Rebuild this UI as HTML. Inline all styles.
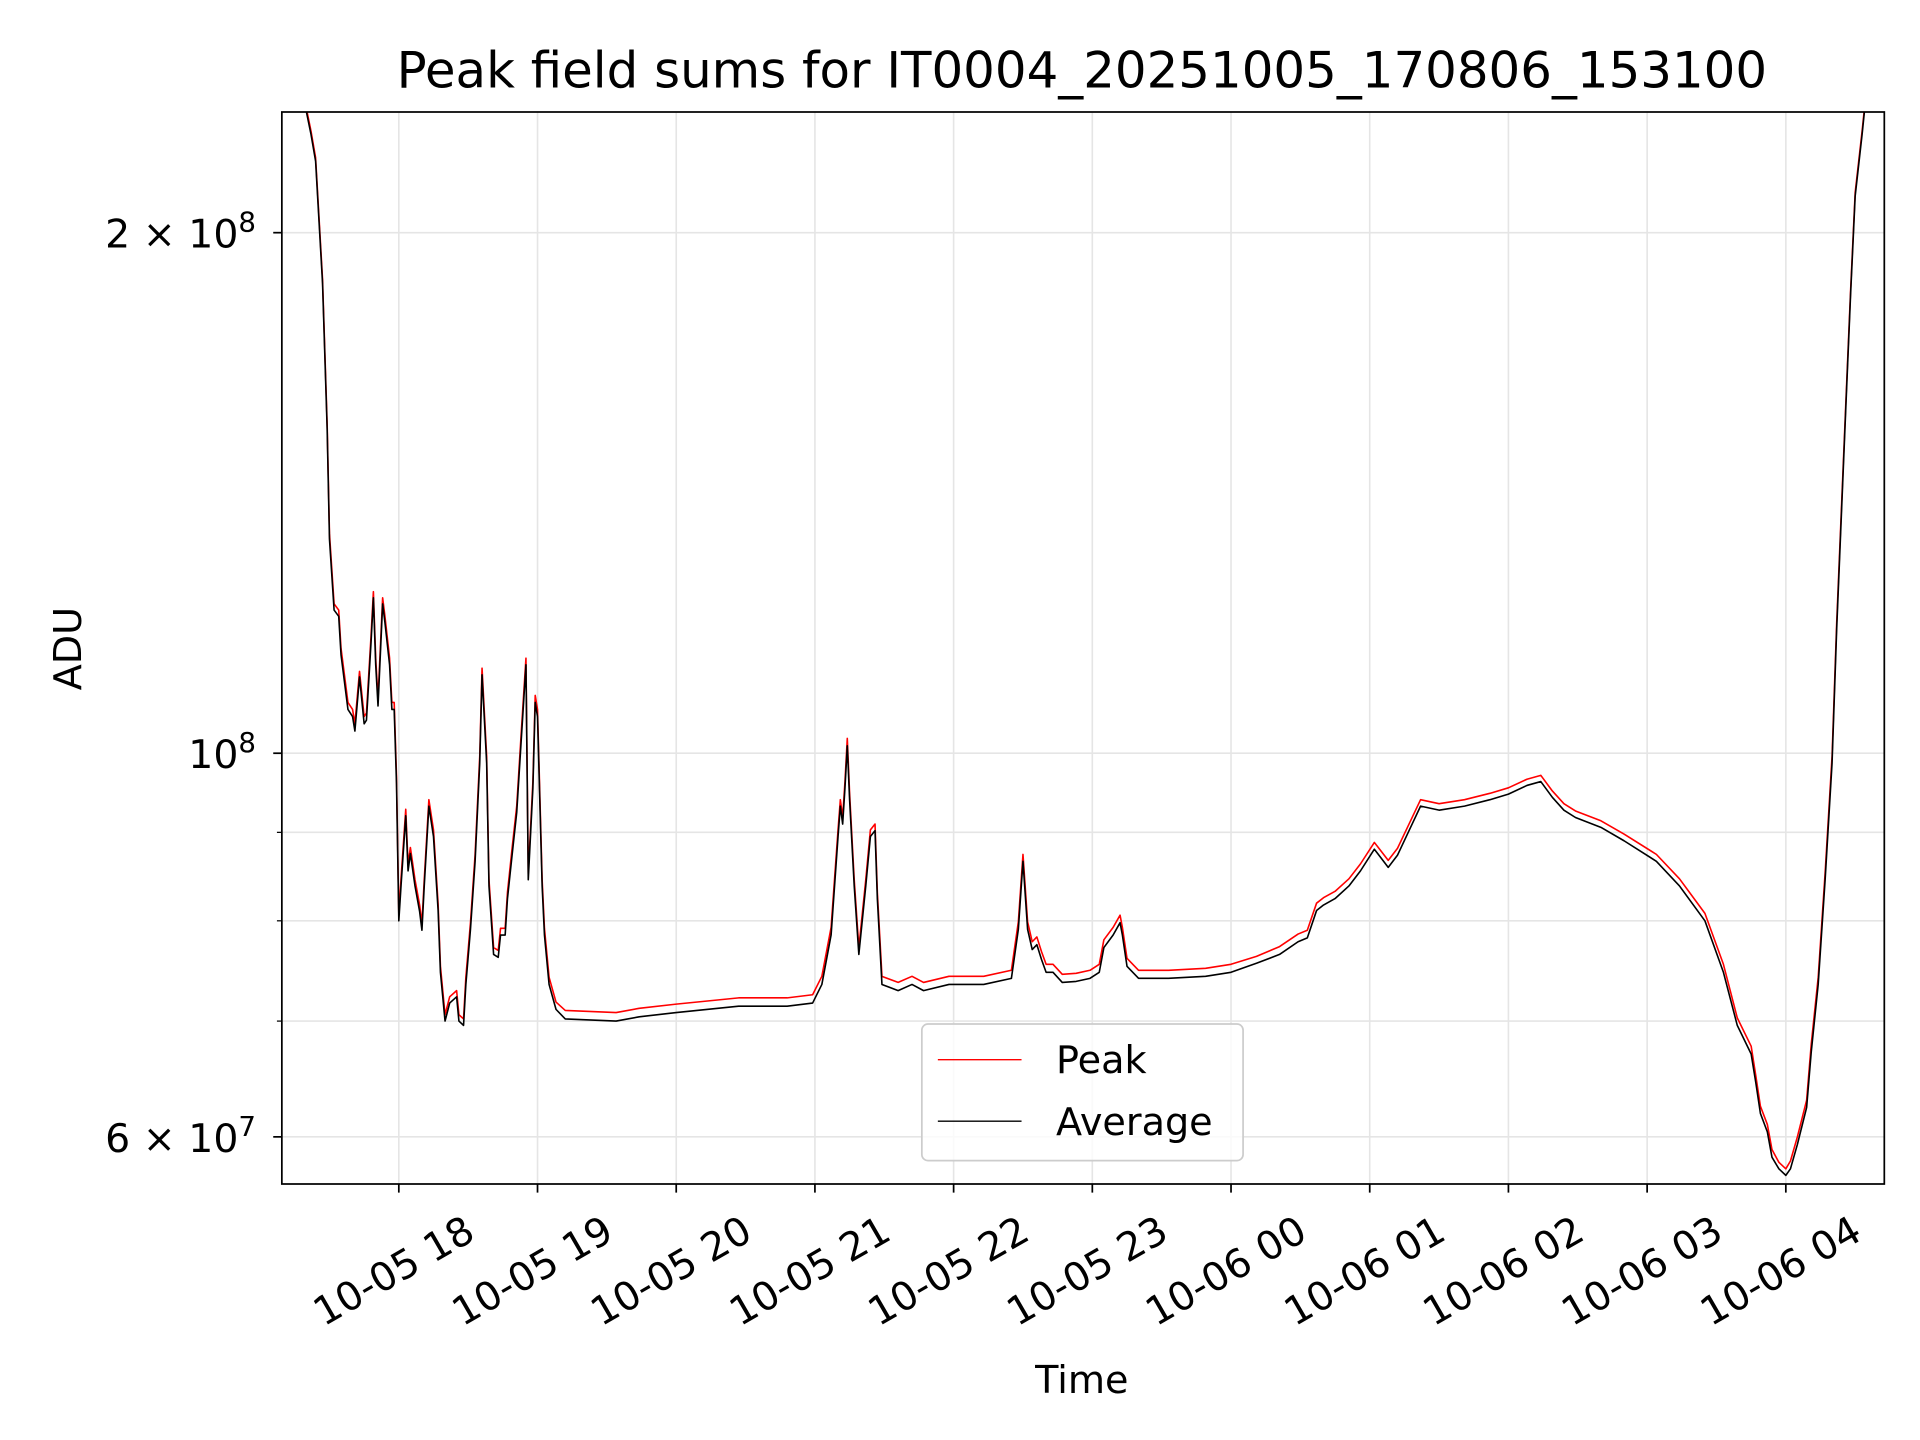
<!DOCTYPE html>
<html><head><meta charset="utf-8"><style>
html,body{margin:0;padding:0;background:#fff}
svg{display:block}
text{font-family:"DejaVu Sans","Liberation Sans",sans-serif;fill:#000}
</style></head><body>
<svg id="chart" width="1920" height="1440" viewBox="0 0 1560 1170" xmlns="http://www.w3.org/2000/svg">
<rect width="1560" height="1170" fill="#fff"/>
<text x="879" y="71" font-size="40.5" text-anchor="middle">Peak field sums for IT0004_20251005_170806_153100</text>
<g id="grid"></g>
<g id="plot" clip-path="url(#clip)"></g>
<defs><clipPath id="clip"><rect x="229" y="91" width="1302" height="871"/></clipPath></defs>
<rect x="229" y="91" width="1302" height="871" fill="none" stroke="#000" stroke-width="1.4"/>
<g id="xaxis"></g>
<g id="yaxis">
  <text x="208" y="201" font-size="32" text-anchor="end">2 × 10<tspan font-size="22.5" dy="-13">8</tspan></text>
  <text x="208" y="624" font-size="32" text-anchor="end">10<tspan font-size="22.5" dy="-13">8</tspan></text>
  <text x="208" y="936" font-size="32" text-anchor="end">6 × 10<tspan font-size="22.5" dy="-13">7</tspan></text>
</g>
<text x="0" y="0" font-size="31" text-anchor="middle" transform="translate(66,527) rotate(-90)">ADU</text>
<text x="879" y="1132" font-size="31" text-anchor="middle">Time</text>
<g>
  <rect x="749" y="832" width="261" height="111" rx="5" fill="#fff" fill-opacity="0.8" stroke="#ccc" stroke-width="1.4"/>
  <line x1="762" y1="861" x2="830" y2="861" stroke="#ff0000" stroke-width="1.1"/>
  <text x="858" y="872" font-size="31">Peak</text>
  <line x1="762" y1="911" x2="830" y2="911" stroke="#000" stroke-width="1.1"/>
  <text x="858" y="922" font-size="31">Average</text>
</g>
</svg>
<script>
// minutes since 10-05 17:00
const times = [9,20,22,24,27,29,30,32,34,35,38,40,41,43,45,46,48,49,50,51,53,54,56,57,58,59,60,61,63,64,65,67,69,70,71,73,75,77,78,80,82,85,86,88,89,91,93,95,96,98,99,101,103,104,106,107,109,111,113,115,116,118,119,120,122,123,125,128,132,154,164,180,207,228,239,243,247,250,251,252,253,254,255,257,259,262,264,266,267,269,276,282,287,298,313,325,328,330,332,334,336,338,340,343,347,353,359,363,365,369,372,373,375,380,393,409,420,431,441,449,453,457,460,465,471,476,482,484,488,492,497,502,510,521,532,540,548,554,559,564,569,580,590,604,614,625,633,639,645,647,649,652,654,657,660,662,665,669,671,674,677,680,682,684,686,688,690,693,694,703];
// values in units of 1e7 ADU
const averageValues = [23.5,23.5,22.8,22.0,18.7,15.4,13.3,12.1,12.0,11.4,10.6,10.5,10.3,11.07,10.4,10.45,11.6,12.3,11.25,10.65,12.2,11.9,11.25,10.6,10.6,9.6,8.0,8.4,9.2,8.55,8.75,8.38,8.1,7.9,8.38,9.32,8.95,8.11,7.47,7.0,7.17,7.23,7.0,6.96,7.35,7.91,8.66,9.87,11.1,9.87,8.38,7.65,7.62,7.85,7.85,8.24,8.73,9.24,10.2,11.25,8.45,9.55,10.7,10.5,8.38,7.85,7.35,7.11,7.02,7.0,7.04,7.08,7.14,7.14,7.17,7.35,7.85,8.95,9.32,9.1,9.55,10.1,9.4,8.38,7.65,8.38,8.95,9.02,8.24,7.35,7.29,7.35,7.29,7.35,7.35,7.41,7.91,8.66,7.91,7.7,7.75,7.6,7.47,7.47,7.37,7.38,7.41,7.47,7.72,7.85,7.98,7.85,7.53,7.41,7.41,7.43,7.47,7.56,7.65,7.78,7.82,8.11,8.17,8.24,8.38,8.55,8.80,8.73,8.59,8.73,9.02,9.32,9.27,9.32,9.40,9.47,9.58,9.63,9.43,9.27,9.18,9.06,8.90,8.66,8.38,8.0,7.47,6.96,6.7,6.45,6.19,6.04,5.84,5.75,5.70,5.75,5.94,6.24,6.72,7.35,8.45,9.87,11.8,13.7,15.9,18.4,21.0,22.8,23.5,23.5];
const peakValues = [23.6,23.6,22.9,22.1,18.8,15.5,13.4,12.2,12.1,11.5,10.7,10.6,10.4,11.15,10.5,10.55,11.7,12.4,11.35,10.75,12.3,12.0,11.35,10.7,10.7,9.7,8.07,8.48,9.28,8.62,8.82,8.45,8.17,7.97,8.45,9.4,9.03,8.18,7.53,7.06,7.23,7.29,7.06,7.02,7.42,7.98,8.74,9.96,11.2,9.96,8.45,7.72,7.69,7.92,7.92,8.31,8.81,9.32,10.3,11.35,8.52,9.63,10.8,10.6,8.45,7.92,7.42,7.18,7.1,7.08,7.12,7.16,7.22,7.22,7.25,7.43,7.93,9.03,9.4,9.18,9.63,10.2,9.48,8.45,7.72,8.45,9.03,9.1,8.31,7.43,7.37,7.43,7.37,7.43,7.43,7.49,7.99,8.74,7.99,7.78,7.83,7.68,7.55,7.55,7.45,7.46,7.49,7.55,7.8,7.93,8.06,7.93,7.61,7.49,7.49,7.51,7.55,7.63,7.73,7.86,7.9,8.19,8.25,8.32,8.46,8.63,8.88,8.81,8.67,8.81,9.1,9.4,9.35,9.4,9.48,9.55,9.66,9.71,9.51,9.35,9.26,9.14,8.98,8.74,8.46,8.08,7.55,7.03,6.77,6.51,6.25,6.1,5.9,5.8,5.75,5.81,6.0,6.3,6.79,7.42,8.53,9.96,11.9,13.8,16.0,18.5,21.1,22.9,23.6,23.6];
const xTickHours = [18,19,20,21,22,23,24,25,26,27,28];
const xTickLabels = ["10-05 18","10-05 19","10-05 20","10-05 21","10-05 22","10-05 23","10-06 00","10-06 01","10-06 02","10-06 03","10-06 04"];
const yGridValues = [2e8,1e8,9e7,8e7,7e7,6e7];

const NS = "http://www.w3.org/2000/svg";
const X0 = 229, X1 = 1531, Y0 = 91, Y1 = 962;
const tMin = 9.4, tMax = 702.6;
function xs(min){ return X0 + (min - tMin) / (tMax - tMin) * (X1 - X0); }
function ys(v){ return 612 - Math.log10(v / 1e8) * 1405; }

const grid = document.getElementById('grid');
const xaxis = document.getElementById('xaxis');
const yaxis = document.getElementById('yaxis');
function mk(tag, attrs, parent){ const e = document.createElementNS(NS, tag); for (const k in attrs) e.setAttribute(k, attrs[k]); parent.appendChild(e); return e; }

xTickHours.forEach((h, i) => {
  const x = xs((h - 17) * 60);
  const g = mk('line', {x1:x, y1:Y0, x2:x, y2:Y1, stroke:'#e5e5e5', 'stroke-width':1.3}, grid);
  
  
  const t = mk('line', {x1:x, y1:Y1, x2:x, y2:Y1 + 7, stroke:'#000', 'stroke-width':1.4}, xaxis);
  
  
  const lbl = mk('text', {x:0, y:0, 'font-size':32, 'text-anchor':'middle', 'dominant-baseline':'central', transform:'translate(' + (x - 4) + ',1033) rotate(-30)'}, xaxis);
  lbl.textContent = xTickLabels[i];
  
  
});
yGridValues.forEach(v => {
  const y = ys(v);
  const g = mk('line', {x1:X0, y1:y, x2:X1, y2:y, stroke:'#e5e5e5', 'stroke-width':1.3}, grid);
  
  
  const major = (v === 2e8 || v === 1e8 || v === 6e7);
  const t = mk('line', {x1:X0 - (major ? 7 : 4), y1:y, x2:X0, y2:y, stroke:'#000', 'stroke-width':major ? 1.4 : 1}, yaxis);
  
  
});

const plot = document.getElementById('plot');
function series(vals, color, name){
  const d = vals.map((v, i) => (i ? 'L' : 'M') + xs(times[i]).toFixed(2) + ',' + ys(v * 1e7).toFixed(2)).join(' ');
  const p = mk('path', {d:d, fill:'none', stroke:color, 'stroke-width':1.3, 'stroke-linejoin':'round'}, plot);
  
  
}
series(peakValues, '#ff0000', 'peak-line');
series(averageValues, '#000000', 'average-line');
</script>
</body></html>
